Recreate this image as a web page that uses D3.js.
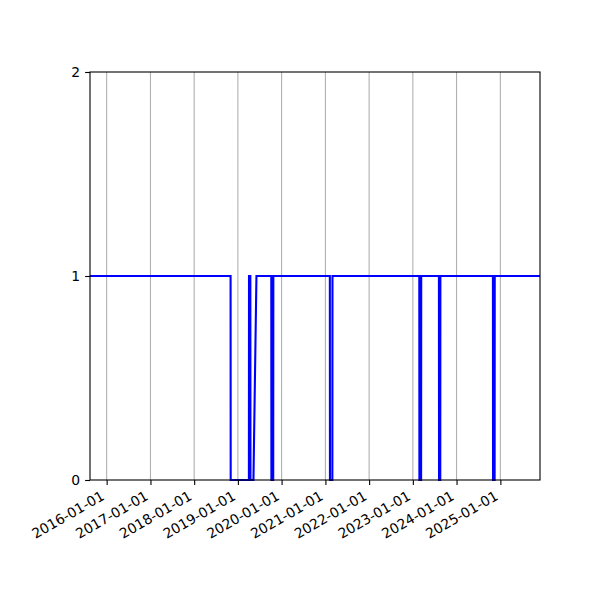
<!DOCTYPE html>
<html>
<head>
<meta charset="utf-8">
<script src="https://cdn.jsdelivr.net/npm/d3@7"></script>
<style>
  body { margin: 0; background: #fff; }
  text { font-family: "DejaVu Sans", sans-serif; font-size: 13.9px; fill: #000; }
</style>
</head>
<body>
<svg id="chart" width="600" height="600"></svg>
<script>
// state series: value switches between 1 and 0 on these dates
var dates = [
  "2015-08-15", "2018-11-01", "2018-11-02",
  "2019-04-03", "2019-04-04", "2019-04-15", "2019-04-16",
  "2019-05-11", "2019-06-05",
  "2019-10-07", "2019-10-08", "2019-10-23", "2019-10-24",
  "2021-02-07", "2021-02-08", "2021-02-28", "2021-03-01",
  "2023-02-24", "2023-02-25", "2023-03-11", "2023-03-12",
  "2023-08-07", "2023-08-08", "2023-08-18", "2023-08-19",
  "2024-10-31", "2024-11-01", "2024-11-14", "2024-11-15",
  "2025-11-28"
];
var values = [
  1, 1, 0,
  0, 1, 1, 0,
  0, 1,
  1, 0, 0, 1,
  1, 0, 0, 1,
  1, 0, 0, 1,
  1, 0, 0, 1,
  1, 0, 0, 1,
  1
];
var xTickLabels = ["2016-01-01", "2017-01-01", "2018-01-01", "2019-01-01", "2020-01-01",
                   "2021-01-01", "2022-01-01", "2023-01-01", "2024-01-01", "2025-01-01"];
var yTicks = [0, 1, 2];

var parse = d3.utcParse("%Y-%m-%d");
var data = dates.map(function(d, i){ return {date: parse(d), value: values[i]} });

var plotL = 90, plotR = 540, plotT = 72, plotB = 480;
var svg = d3.select("#chart");

var x = d3.scaleUtc()
  .domain(d3.extent(data, d => d.date))
  .range([plotL, plotR]);
var y = d3.scaleLinear()
  .domain([0, 2])
  .range([plotB, plotT]);

var tickDates = xTickLabels.map(parse);

// vertical grid
svg.append("g")
  .selectAll("line")
  .data(tickDates)
  .join("line")
  .attr("x1", d => x(d)).attr("x2", d => x(d))
  .attr("y1", plotT).attr("y2", plotB)
  .attr("stroke", "#b0b0b0")
  .attr("stroke-width", 1.1);

// the line
var line = d3.line()
  .x(d => x(d.date))
  .y(d => y(d.value));

svg.append("path")
  .datum(data)
  .attr("d", line)
  .attr("fill", "none")
  .attr("stroke", "#0000ff")
  .attr("stroke-width", 2.1)
  .attr("stroke-linejoin", "miter");

// frame
svg.append("rect")
  .attr("x", plotL).attr("y", plotT)
  .attr("width", plotR - plotL).attr("height", plotB - plotT)
  .attr("fill", "none")
  .attr("stroke", "#000")
  .attr("stroke-width", 1.1);

// x axis
var xAxis = svg.append("g")
  .attr("transform", "translate(0," + plotB + ")")
  .call(d3.axisBottom(x).tickValues(tickDates).tickSize(4.9).tickFormat(d3.utcFormat("%Y-%m-%d")));
xAxis.select(".domain").remove();
xAxis.selectAll(".tick line").attr("stroke", "#000").attr("stroke-width", 1.1);
xAxis.selectAll(".tick text")
  .attr("font-size", null).attr("font-family", null)
  .attr("text-anchor", "end")
  .attr("y", 0).attr("x", 0).attr("dy", "0.75em")
  .attr("transform", "translate(-7,9.7) rotate(-30)");

// y axis
var yAxis = svg.append("g")
  .attr("transform", "translate(" + plotL + ",0)")
  .call(d3.axisLeft(y).tickValues(yTicks).tickSize(4.9).tickPadding(4.9).tickFormat(d3.format("d")));
yAxis.select(".domain").remove();
yAxis.selectAll(".tick line").attr("stroke", "#000").attr("stroke-width", 1.1);
yAxis.selectAll(".tick text").attr("font-size", null).attr("font-family", null);
</script>
</body>
</html>
